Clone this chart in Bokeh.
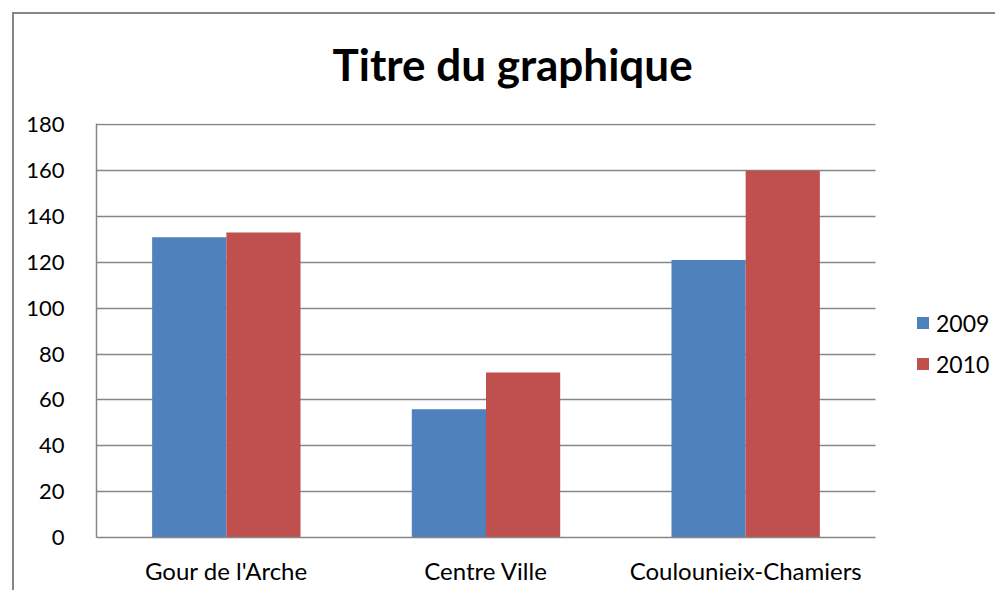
from bokeh.plotting import figure
from bokeh.models import Range1d, FixedTicker, Legend, LegendItem, ColumnDataSource
from bokeh.transform import dodge
from bokeh.embed import file_html
from bokeh.resources import INLINE

categories = ["Gour de l'Arche", "Centre Ville", "Coulounieix-Chamiers"]
series_names = ["2009", "2010"]
values_2009 = [131, 56, 121]
values_2010 = [133, 72, 160]
y_ticks = [0, 20, 40, 60, 80, 100, 120, 140, 160, 180]
colors = ["#4F81BD", "#C0504D"]

FONT = "Lato"
GRID = "#868686"

W, H = 995, 590
LEFT, TOP, BOTTOM = 96, 123, 53
PLOT_W = 779  # width of the category area in px
n = len(categories)
xpos = [i + 0.5 for i in range(n)]
x_end = n * (W - LEFT) / PLOT_W

src = ColumnDataSource(dict(x=xpos, v2009=values_2009, v2010=values_2010))

p = figure(width=W, height=H, output_backend="svg", toolbar_location=None,
           x_range=Range1d(0, x_end), y_range=Range1d(0, 180.6), title="Titre du graphique",
           min_border_left=LEFT, min_border_right=0, min_border_top=TOP, min_border_bottom=BOTTOM)

bw = 1.0 / 3.5
r1 = p.vbar(x=dodge("x", -bw / 2), top="v2009", width=bw, source=src,
            fill_color=colors[0], line_color=None)
r2 = p.vbar(x=dodge("x", bw / 2), top="v2010", width=bw, source=src,
            fill_color=colors[1], line_color=None)

p.title.text_font = FONT
p.title.text_font_size = "44px"
p.title.text_font_style = "bold"
p.title.text_color = "black"
p.title.align = "left"
p.title.offset = 236
p.title.standoff = 68

p.outline_line_color = None
p.xgrid.grid_line_color = None
p.ygrid.grid_line_color = GRID
p.ygrid.grid_line_width = 1.5
p.ygrid.cross_bounds = (0, n)
p.yaxis.ticker = FixedTicker(ticks=y_ticks)
p.yaxis.bounds = (0, 180.6)
p.xaxis.ticker = FixedTicker(ticks=xpos)
p.xaxis.major_label_overrides = {x: c for x, c in zip(xpos, categories)}
p.xaxis.bounds = (0, n)
for ax in (p.xaxis[0], p.yaxis[0]):
    ax.axis_line_color = GRID
    ax.axis_line_width = 1.5
    ax.major_tick_line_color = None
    ax.minor_tick_line_color = None
    ax.major_label_text_font = FONT
    ax.major_label_text_color = "black"
p.yaxis.major_label_text_font_size = "22px"
p.xaxis.major_label_text_font_size = "24px"
p.yaxis.major_label_standoff = 26
p.xaxis.major_label_standoff = 12

legend = Legend(items=[LegendItem(label=series_names[0], renderers=[r1]),
                       LegendItem(label=series_names[1], renderers=[r2])],
                location=(819, 159), border_line_color=None, background_fill_alpha=0,
                glyph_width=15, glyph_height=15, label_height=29, spacing=12,
                label_text_font=FONT, label_text_font_size="23px", label_text_color="black",
                padding=10, label_standoff=6, margin=0)
p.add_layout(legend, "center")

p.border_fill_alpha = 0
p.styles = {
    "background": "linear-gradient(#868686, #868686) 12px 12px / 2px 100% no-repeat, "
                  "linear-gradient(#868686, #868686) 12px 12px / 100% 2px no-repeat, white"
}

open("out.html", "w").write(file_html(p, INLINE))
